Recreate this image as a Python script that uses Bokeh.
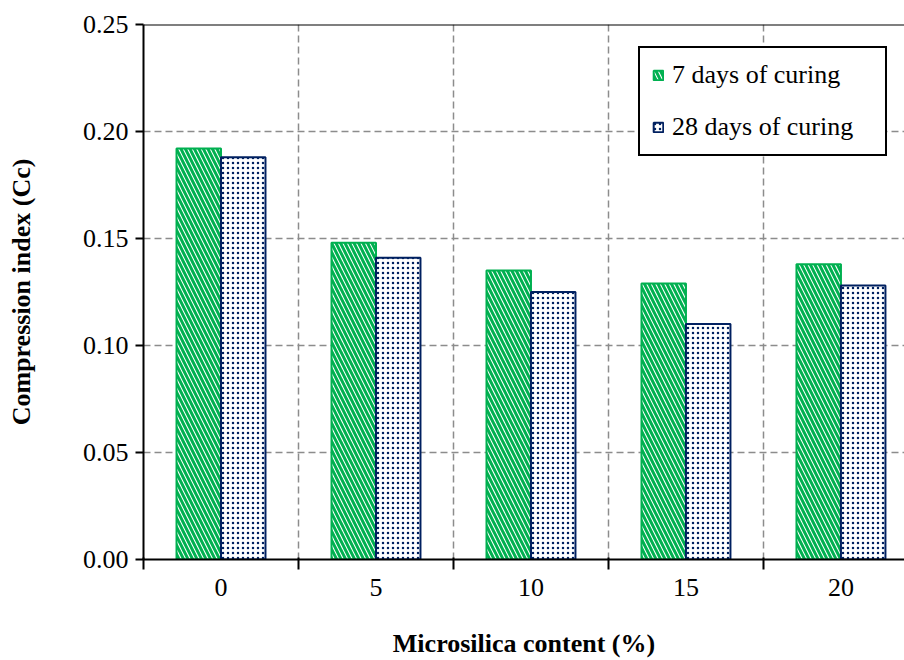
from bokeh.plotting import figure
from bokeh.models import FixedTicker, Span, Legend, LegendItem, ColumnDataSource, NumeralTickFormatter
from bokeh.transform import dodge
from bokeh.embed import file_html
from bokeh.resources import INLINE

contents = ["0", "5", "10", "15", "20"]
cc_7days = [0.192, 0.148, 0.135, 0.129, 0.138]
cc_28days = [0.188, 0.141, 0.125, 0.110, 0.128]
y_ticks = [0.00, 0.05, 0.10, 0.15, 0.20, 0.25]
series_names = ["7 days of curing", "28 days of curing"]

FONT = "'Liberation Serif', 'Times New Roman', serif"
GREEN = "#00B050"
NAVY = "#002060"
GRID = "#8c8c8c"

pos = list(range(len(contents)))
src = ColumnDataSource(dict(x=pos, c7=cc_7days, c28=cc_28days))

p = figure(width=904, height=660, x_range=(-0.5, 4.41), y_range=(0, 0.25),
           output_backend="svg", toolbar_location=None,
           min_border_left=143, min_border_right=0, min_border_top=24, min_border_bottom=99)
p.outline_line_color = None
p.background_fill_color = "white"

bw = 0.287
r7 = p.vbar(x=dodge("x", -bw / 2, range=p.x_range), top="c7", width=bw, source=src,
            fill_color="white", hatch_pattern="\\", hatch_color=GREEN, hatch_weight=3,
            hatch_scale=9, line_color=GREEN, line_width=2)
r28 = p.vbar(x=dodge("x", bw / 2, range=p.x_range), top="c28", width=bw, source=src,
             fill_color="white", hatch_pattern="dot", hatch_color=NAVY, hatch_weight=2.6,
             hatch_scale=5, line_color=NAVY, line_width=2)

# x axis: labels at centres, ticks at category boundaries (minor ticks)
p.xaxis.ticker = FixedTicker(ticks=pos, minor_ticks=[i - 0.5 for i in range(len(contents) + 1)])
p.xaxis.major_label_overrides = {i: c for i, c in enumerate(contents)}
p.xaxis.major_tick_out = 0
p.xaxis.major_tick_in = 0
p.xaxis.minor_tick_out = 10
p.xaxis.minor_tick_in = 2
p.xaxis.minor_tick_line_color = "black"
p.xaxis.minor_tick_line_width = 2
p.xaxis.major_label_standoff = 9
p.xaxis.axis_label = "Microsilica content (%)"
p.xaxis.axis_label_standoff = 30

p.yaxis.ticker = FixedTicker(ticks=y_ticks)
p.yaxis.formatter = NumeralTickFormatter(format="0.00")
p.yaxis.major_tick_out = 8
p.yaxis.major_tick_in = 0
p.yaxis.minor_tick_line_color = None
p.yaxis.major_label_standoff = 7
p.yaxis.axis_label = "Compression index (Cc)"
p.yaxis.axis_label_standoff = 44

for ax in (p.xaxis, p.yaxis):
    ax.axis_line_color = "black"
    ax.axis_line_width = 2
    ax.major_tick_line_color = "black"
    ax.major_tick_line_width = 2
    ax.major_label_text_font = FONT
    ax.major_label_text_font_size = "26px"
    ax.major_label_text_color = "black"
    ax.axis_label_text_font = FONT
    ax.axis_label_text_font_size = "26px"
    ax.axis_label_text_font_style = "bold"
    ax.axis_label_text_color = "black"

p.xgrid.grid_line_color = None
p.xgrid.minor_grid_line_color = GRID
p.xgrid.minor_grid_line_dash = "7 4"
p.xgrid.minor_grid_line_width = 1.5
p.ygrid.grid_line_color = GRID
p.ygrid.grid_line_dash = "7 4"
p.ygrid.grid_line_width = 1.5

p.add_layout(Span(location=y_ticks[-1], dimension="width", line_color="black", line_width=2))

legend = Legend(items=[LegendItem(label=series_names[0], renderers=[r7]),
                       LegendItem(label=series_names[1], renderers=[r28])],
                location=(495, 403))
legend.border_line_color = "black"
legend.border_line_alpha = 1
legend.border_line_width = 2
legend.background_fill_color = "white"
legend.background_fill_alpha = 1
legend.label_text_font = FONT
legend.label_text_font_size = "26px"
legend.label_text_color = "black"
legend.glyph_width = 12
legend.glyph_height = 12
legend.label_standoff = 8
legend.padding = 12
legend.spacing = 22
legend.margin = 0
legend.label_width = 201
p.add_layout(legend)

open("out.html", "w").write(file_html(p, INLINE))
